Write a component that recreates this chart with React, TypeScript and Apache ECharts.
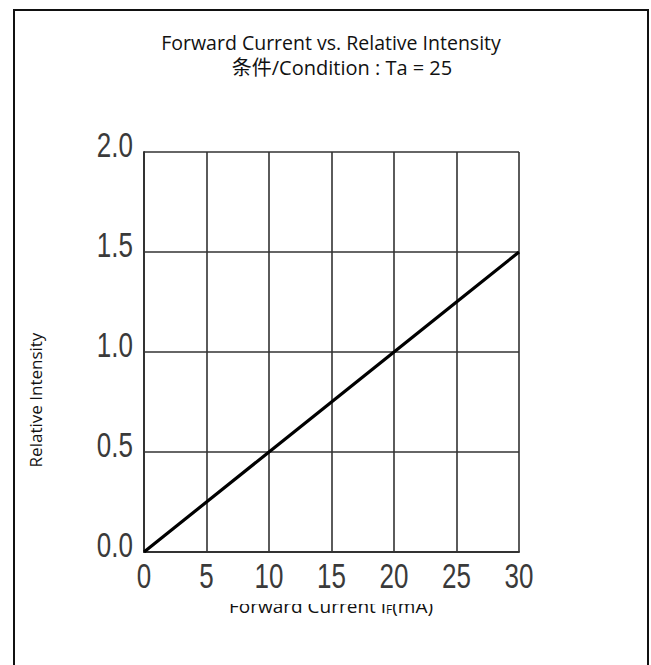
import React, { useEffect, useRef } from "react";
import * as echarts from "echarts";

const titleLines = ["Forward Current vs. Relative Intensity", "条件/Condition : Ta = 25"];
const xName = "Forward Current I{sub|F}(mA)";
const yName = "Relative Intensity";
const currentMA = [0, 5, 10, 15, 20, 25, 30];
const intensity = [0, 0.25, 0.5, 0.75, 1.0, 1.25, 1.5];
const xTicks = [0, 5, 10, 15, 20, 25, 30];
const yTicks = [0, 0.5, 1.0, 1.5, 2.0];

export default function App() {
  const ref = useRef<HTMLDivElement>(null);
  useEffect(() => {
    document.body.style.margin = "0";
    const chart = echarts.init(ref.current!, null, { renderer: "svg" });
    const gridColor = "#333";
    const tickFont = { fontSize: 26, fontFamily: "Liberation Sans, Arial", fill: "#3a3a3a" };
    const tickScaleY = 1.35;
    chart.setOption({
      animation: false,
      backgroundColor: "#fff",
      grid: { left: 144, top: 152, width: 375, height: 400, containLabel: false },
      xAxis: {
        type: "value",
        min: 0,
        max: 30,
        interval: 5,
        axisLine: { show: true, lineStyle: { color: gridColor, width: 2 } },
        axisTick: { show: false },
        splitLine: { show: true, lineStyle: { color: gridColor, width: 1.6 } },
        axisLabel: { show: false },
      },
      yAxis: {
        type: "value",
        min: 0,
        max: 2,
        interval: 0.5,
        axisLine: { show: true, lineStyle: { color: gridColor, width: 2 } },
        axisTick: { show: false },
        splitLine: { show: true, lineStyle: { color: gridColor, width: 1.6 } },
        axisLabel: { show: false },
      },
      series: [
        {
          type: "line",
          data: currentMA.map((x, i) => [x, intensity[i]]),
          showSymbol: false,
          lineStyle: { color: "#000", width: 3.2 },
        },
      ],
    });

    const x0 = chart.convertToPixel({ xAxisIndex: 0 }, 0) as number;
    const y0 = chart.convertToPixel({ yAxisIndex: 0 }, 0) as number;
    const tickTexts: any[] = [];
    xTicks.forEach((v) => {
      const px = chart.convertToPixel({ xAxisIndex: 0 }, v) as number;
      tickTexts.push({
        type: "text",
        x: px,
        y: y0 + 7,
        scaleY: tickScaleY,
        style: { text: String(v), ...tickFont, align: "center", verticalAlign: "top" },
      });
    });
    yTicks.forEach((v) => {
      const py = chart.convertToPixel({ yAxisIndex: 0 }, v) as number;
      tickTexts.push({
        type: "text",
        x: x0 - 11,
        y: py - 7,
        scaleY: tickScaleY,
        style: { text: v.toFixed(1), ...tickFont, align: "right", verticalAlign: "middle" },
      });
    });

    chart.setOption({
      graphic: [
        ...tickTexts,
        {
          type: "text",
          x: 331,
          y: 32,
          style: { text: titleLines[0], fontSize: 19.5, fontFamily: "Open Sans", fill: "#111", align: "center" },
        },
        {
          type: "text",
          x: 342,
          y: 57,
          style: {
            text: titleLines[1],
            fontSize: 20,
            fontFamily: "Open Sans, Noto Sans CJK SC",
            fill: "#111",
            align: "center",
          },
        },
        {
          type: "text",
          x: 35,
          y: 400,
          rotation: Math.PI / 2,
          style: {
            text: yName,
            fontSize: 17,
            fontFamily: "Open Sans",
            fill: "#111",
            align: "center",
            verticalAlign: "middle",
          },
        },
        {
          type: "text",
          x: 331,
          y: 606,
          z: 10,
          style: {
            text: xName,
            rich: { sub: { fontSize: 12, verticalAlign: "bottom", fontFamily: "Open Sans", fill: "#111" } },
            fontSize: 19,
            fontFamily: "Open Sans",
            fill: "#111",
            align: "center",
            verticalAlign: "middle",
          },
        },
        {
          type: "rect",
          z: 20,
          shape: { x: 150, y: 592, width: 360, height: 12 },
          style: { fill: "#fff" },
        },
        {
          type: "polyline",
          z: 30,
          shape: { points: [[14, 665], [14, 10], [648, 10], [648, 665]] },
          style: { stroke: "#111", lineWidth: 2, fill: null },
        },
      ],
    });
    return () => chart.dispose();
  }, []);
  return <div ref={ref} style={{ width: 651, height: 665 }} />;
}
